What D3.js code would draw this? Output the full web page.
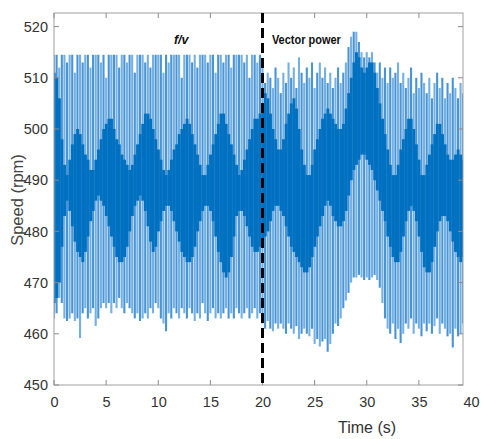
<!DOCTYPE html>
<html><head><meta charset="utf-8">
<script src="https://cdn.jsdelivr.net/npm/d3@7/dist/d3.min.js"></script>
<style>body{margin:0;background:#fff}</style></head>
<body><svg id="c" width="484" height="439"></svg>
<script>
// ---- data ----
const sampleStep = 0.25; // seconds between samples
const lightTop = [
514.5,514.5,512,514.5, 514.5,513,514.5,514.5, 511,514.5,514.5,513, 514.5,514.5,512,514.5,
514.5,514.5,513,514.5, 510,514.5,514.5,514.5, 514.5,512,514.5,514.5, 513,514.5,514.5,511,
514.5,514.5,514.5,513, 514.5,512,514.5,514.5, 514.5,514.5,511,514.5, 513,514.5,514.5,514.5,
514.5,510,514.5,514.5, 514.5,513,514.5,512, 514.5,514.5,514.5,513, 514.5,514.5,511,514.5,
514.5,513,514.5,514.5, 512,514.5,514.5,514.5, 514.5,513,514.5,510, 514.5,514.5,513,514.5,
512,509,511,510, 508,512,510,507, 511,509,513,510, 512,508,514,511,
509,512,510,513, 508,511,513,510, 512,509,511,508, 510,512,509,511,
513,516,518,519, 519,517,515,514, 515,514,515,513, 511,513,510,512,
509,512,510,511, 513,509,511,508, 510,512,507,510, 508,511,509,507,
510,506,509,511, 508,510,506,509, 507,510,508,506, 509,507
];
const darkTop = [
511,510,506,498, 493,491,494,497, 499,500,499,497, 495,494,492,492,
494,496,498,500, 501,502,502,500, 498,497,495,494, 493,492,493,495,
497,499,501,503, 503,502,500,498, 496,494,492,491, 492,494,496,497,
499,500,501,502, 501,499,497,495, 493,491,491,493, 495,497,499,501,
503,503,501,499, 497,495,493,491, 492,494,496,498, 500,502,502,503,
505,507,506,503, 500,498,496,496, 498,501,503,505, 506,504,500,496,
493,491,491,493, 496,498,500,502, 503,504,503,502, 501,500,500,501,
504,507,510,513, 515,514,512,511, 512,513,513,511, 508,505,502,499,
496,493,491,491, 493,496,498,500, 502,502,500,497, 494,491,491,493,
495,497,499,501, 501,499,497,495, 494,494,495,496, 495,494
];
const darkBottom = [
466,467,470,477, 483,486,484,481, 478,476,475,474, 476,479,482,484,
486,487,486,485, 483,481,479,477, 475,474,474,475, 477,480,483,485,
486,487,486,484, 481,478,476,477, 480,482,484,485, 485,484,482,480,
478,476,475,474, 474,475,477,480, 482,484,485,485, 484,482,479,476,
474,472,471,472, 475,479,483,484, 484,483,481,479, 477,476,476,477,
478,479,480,482, 484,485,485,484, 483,481,479,477, 476,475,474,473,
472,472,473,475, 477,479,481,483, 485,486,485,483, 482,481,481,482,
484,487,490,492, 493,494,495,495, 494,493,492,490, 488,486,484,482,
479,477,475,474, 474,476,479,482, 484,485,484,482, 479,476,473,472,
472,474,477,480, 482,483,483,482, 480,478,476,475, 474,475
];
const lightBottom = [
463,464,467,466, 463,462.5,463,464, 462.5,463,459.2,464, 465,463,464,465,
461.5,463,465,466, 465,466,464,466, 465,467,465,464, 466,465,464,463,
464,462.5,463,464, 463,465,464,466, 465,463,462,460.5, 464,463,465,464,
463,465,464,463, 465,464,462.5,464, 463,466,464,462.5, 464,465,463,464,
463,464,465,463, 464,463,465,464, 463,464,465,463, 464,465,463,464,
462,461,462.5,461, 460.5,462,461,462, 461,460,462,461, 460,461.5,459,460,
461,460,459.5,461, 458,459,457.5,458.5, 459,456.5,458,460, 462,461.5,463,465,
466.5,468,470,471, 471,471.5,471,470.5, 471,470.5,471,471.5, 470.5,469,466,463,
461,460,462,459, 461,458.2,460,462, 461,463,460,462, 461,459.5,462,460.5,
462,460,461.5,463, 460,462,461,459.5, 460,457.3,461,459.5, 460,462
];
const xTicks = [0,5,10,15,20,25,30,35,40];
const yTicks = [450,460,470,480,490,500,510,520];
const switchTime = 20;
const xLabel = "Time (s)";
const yLabel = "Speed (rpm)";
const regionLabels = [{text:"f/v", t:11.5, italic:true}, {text:"Vector power", t:20.9, italic:false}];

// ---- layout ----
const svg = d3.select("#c");
const box = {left:54, right:463, top:13, bottom:385};
const x = d3.scaleLinear().domain([0,40]).range([54,471]);
const y = d3.scaleLinear().domain([450,520]).range([385,26.6]);

svg.append("defs").append("clipPath").attr("id","clip")
  .append("rect").attr("x",box.left).attr("y",box.top)
  .attr("width",box.right-box.left).attr("height",box.bottom-box.top);

const samples = lightTop.map((v,i)=>({i, t:i*sampleStep, lt:v, dt:darkTop[i], db:darkBottom[i], lb:lightBottom[i]}));
const plot = svg.append("g").attr("clip-path","url(#clip)");

plot.selectAll("line.light").data(samples).join("line").attr("class","light")
  .attr("x1",d=>x(d.t)).attr("x2",d=>x(d.t))
  .attr("y1",d=>y(d.lb)).attr("y2",d=>y(d.lt))
  .attr("stroke",d=>d.i%2 ? "#4894d5" : "#74b0e3").attr("stroke-width",2.1);

const bw = x(sampleStep)-x(0);
plot.selectAll("rect.dark").data(samples).join("rect").attr("class","dark")
  .attr("x",d=>x(d.t)-bw/2).attr("width",bw+0.3)
  .attr("y",d=>y(d.dt)).attr("height",d=>y(d.db)-y(d.dt))
  .attr("fill","#0070c0");

// box
svg.append("rect").attr("x",box.left).attr("y",box.top)
  .attr("width",box.right-box.left).attr("height",box.bottom-box.top)
  .attr("fill","none").attr("stroke","#a0a0a0").attr("stroke-width",1);

const tickColor = "#8a8a8a";
const inX = xTicks.filter(t=>x(t)<=box.right);
const xa = svg.append("g").attr("transform",`translate(0,${box.bottom})`)
  .call(d3.axisBottom(x).tickValues(xTicks).tickSize(0).tickPadding(12).tickFormat(d3.format("d")));
xa.select(".domain").remove();
xa.selectAll("text").attr("font-family","Liberation Sans, Arial, sans-serif").attr("font-size",14.5).attr("fill","#333");
const ya = svg.append("g").attr("transform",`translate(${box.left},0)`)
  .call(d3.axisLeft(y).tickValues(yTicks).tickSize(0).tickPadding(6).tickFormat(d3.format("d")));
ya.select(".domain").remove();
ya.selectAll("text").attr("font-family","Liberation Sans, Arial, sans-serif").attr("font-size",14.5).attr("fill","#333");

const tk = svg.append("g").attr("stroke",tickColor).attr("stroke-width",1);
inX.forEach(t=>{
  tk.append("line").attr("x1",x(t)).attr("x2",x(t)).attr("y1",box.bottom).attr("y2",box.bottom-5);
  tk.append("line").attr("x1",x(t)).attr("x2",x(t)).attr("y1",box.top).attr("y2",box.top+5);
});
yTicks.forEach(v=>{
  tk.append("line").attr("x1",box.left).attr("x2",box.left+5).attr("y1",y(v)).attr("y2",y(v));
  tk.append("line").attr("x1",box.right).attr("x2",box.right-5).attr("y1",y(v)).attr("y2",y(v));
});

svg.append("line").attr("x1",x(switchTime)).attr("x2",x(switchTime))
  .attr("y1",box.top).attr("y2",box.bottom)
  .attr("stroke","#000").attr("stroke-width",3).attr("stroke-dasharray","10,5");

svg.append("text").attr("x",367).attr("y",433).attr("text-anchor","middle")
  .attr("font-family","Liberation Sans, Arial, sans-serif").attr("font-size",16).attr("fill","#333").text(xLabel);
svg.append("text").attr("transform","translate(23,200) rotate(-90)").attr("text-anchor","middle")
  .attr("font-family","Liberation Sans, Arial, sans-serif").attr("font-size",16.5).attr("fill","#444").text(yLabel);

regionLabels.forEach(r=>{
  const tx = svg.append("text").attr("x",x(r.t)).attr("y",44)
    .attr("font-family","Liberation Sans, Arial, sans-serif").attr("font-size",12.5)
    .attr("font-weight","bold").attr("fill","#111").text(r.text);
  if(r.italic) tx.attr("font-style","italic");
  else tx.attr("textLength",69).attr("lengthAdjust","spacingAndGlyphs");
});
</script></body></html>
